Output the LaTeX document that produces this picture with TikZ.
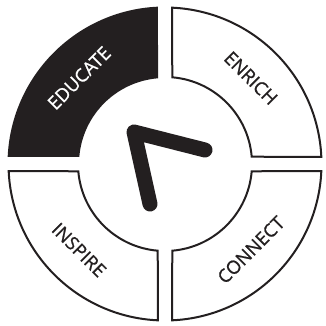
\documentclass[tikz,border=0pt]{standalone}
\usepackage{fontspec}
\setmainfont{Open Sans}
\newfontfamily\lblfont{Open Sans}[FakeBold=0.8]
\definecolor{ink}{HTML}{231F20}
\begin{document}
\begin{tikzpicture}[x=1pt,y=1pt,
  filledq/.style={fill=ink},
  openq/.style={draw=ink,line width=2pt,fill=white},
  lbl/.style={font=\lblfont\fontsize{18.5}{18.5}\selectfont,inner sep=0pt,text=ink},
  hand/.style={draw=ink,line width=15pt,line cap=round,line join=round}]
\useasboundingbox (0,0) rectangle (325,326);
\begin{scope}[shift={(165,162)}]
  % EDUCATE (top-left)
  \path[filledq] (92.55:157.5) arc[start angle=92.55,end angle=177.45,radius=157.5]
     -- (175.33:86) arc[start angle=175.33,end angle=94.67,radius=86] -- cycle;
  % ENRICH (top-right)
  \path[openq] (2.6:156.5) arc[start angle=2.6,end angle=87.4,radius=156.5]
     -- (85.2:87) arc[start angle=85.2,end angle=4.8,radius=87] -- cycle;
  % CONNECT (bottom-right)
  \path[openq] (-87.4:156.5) arc[start angle=-87.4,end angle=-2.6,radius=156.5]
     -- (-4.8:87) arc[start angle=-4.8,end angle=-85.2,radius=87] -- cycle;
  % INSPIRE (bottom-left)
  \path[openq] (182.6:156.5) arc[start angle=182.6,end angle=267.4,radius=156.5]
     -- (265.2:87) arc[start angle=265.2,end angle=184.8,radius=87] -- cycle;
  \node[lbl,text=white,rotate=45] (educate) at (135:121.5) {EDUCATE};
  \node[lbl,rotate=-45] (enrich) at (45:121.5) {ENRICH};
  \node[lbl,rotate=45] (connect) at (-45:121.5) {CONNECT};
  \node[lbl,rotate=-45] (inspire) at (-135:121.5) {INSPIRE};
\end{scope}
\coordinate (pivot) at (134,194);
\coordinate (longend) at (150,122);
\coordinate (shortend) at (205,176);
\draw[hand] (longend) -- (pivot) -- (shortend);
\end{tikzpicture}
\end{document}
